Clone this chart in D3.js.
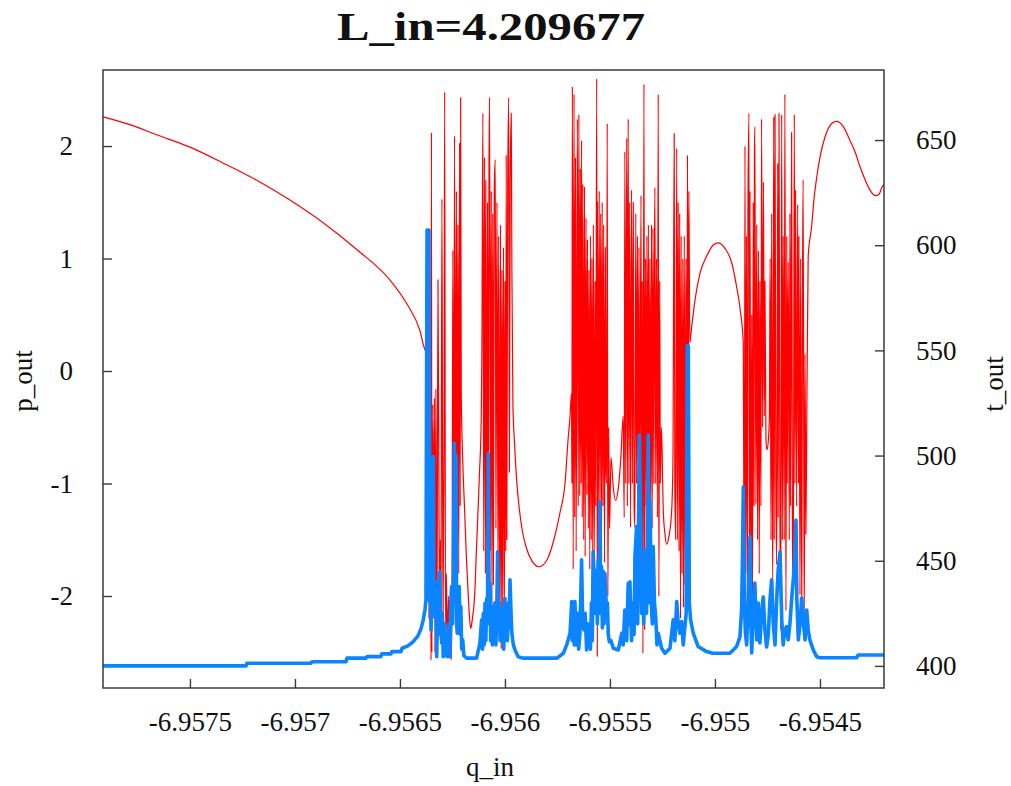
<!DOCTYPE html>
<html>
<head>
<meta charset="utf-8">
<script src="https://cdn.jsdelivr.net/npm/d3@7"></script>
<style>
  body { margin: 0; background: #fff; }
  svg { display: block; }
  text { font-family: "Liberation Serif", "Times New Roman", serif; fill: #111; }
</style>
</head>
<body>
<svg id="chart" width="1011" height="786"></svg>
<script>
// title and axis names
var titleText = "L_in=4.209677";
var xName = "q_in", yName = "p_out", y2Name = "t_out";

// ticks
var xTicks = [-6.9575, -6.957, -6.9565, -6.956, -6.9555, -6.955, -6.9545];
var yTicks = [-2, -1, 0, 1, 2];
var y2Ticks = [400, 450, 500, 550, 600, 650];

// ranges
var xDomain = [-6.957914, -6.954195];
var yDomain = [-2.818, 2.676];
var y2Domain = [389.5, 683.3];

// p_out against q_in (red, left axis)
var pOut = [
  [-6.957913, 2.26], [-6.957786, 2.19], [-6.957659, 2.10], [-6.957500, 1.99],
  [-6.957343, 1.85], [-6.957186, 1.70], [-6.957024, 1.52], [-6.956867, 1.32],
  [-6.956706, 1.08], [-6.956548, 0.81], [-6.956468, 0.60], [-6.956405, 0.36],
  [-6.956381, 0.19], [-6.956374, 0.17], [-6.956371, -1.0], [-6.956367, 0.1],
  [-6.956362, -2.2], [-6.956357, -0.5], [-6.956352, -2.57], [-6.956350, 2.12],
  [-6.956348, -2.5], [-6.956343, -0.3], [-6.956338, -2.2], [-6.956336, -0.24],
  [-6.956333, -2.5], [-6.956329, -0.16], [-6.956324, -2.55], [-6.956319, 0.81],
  [-6.956314, -1.24], [-6.956311, -2.10], [-6.956307, -1.5], [-6.956305, -2.4],
  [-6.956300, 1.53], [-6.956295, -2.3], [-6.956290, -0.6], [-6.956287, 2.48],
  [-6.956283, -2.37], [-6.956279, -1.8], [-6.956274, -2.5], [-6.956269, -2.0],
  [-6.956264, -2.55], [-6.956260, -2.2], [-6.956256, -2.57], [-6.956252, -2.1],
  [-6.956248, 1.07], [-6.956244, -2.0], [-6.956240, 2.09], [-6.956236, -1.6],
  [-6.956231, 1.6], [-6.956227, -2.2], [-6.956224, 1.3], [-6.956220, -1.8],
  [-6.956216, 2.03], [-6.956213, -1.2], [-6.956211, 2.43], [-6.956208, -0.22],
  [-6.956200, -0.85], [-6.956192, -1.24], [-6.956183, -1.68], [-6.956176, -1.95],
  [-6.956169, -2.18], [-6.956163, -2.29], [-6.956155, -2.2], [-6.956144, -1.99],
  [-6.956136, -1.6], [-6.956129, -1.28], [-6.956121, -0.9], [-6.956113, -0.43],
  [-6.956110, 0.1], [-6.956105, 2.29], [-6.956101, -1.6], [-6.956097, 1.9],
  [-6.956093, -1.8], [-6.956091, 1.7], [-6.956087, -2.0], [-6.956083, 1.5],
  [-6.956080, -1.7], [-6.956076, 1.8], [-6.956073, 2.43], [-6.956069, -1.6],
  [-6.956065, 1.6], [-6.956062, -2.1], [-6.956058, 1.4], [-6.956055, -1.9],
  [-6.956051, 1.6], [-6.956046, 1.88], [-6.956043, -1.4], [-6.956038, 1.5],
  [-6.956033, -1.8], [-6.956030, 1.2], [-6.956025, -2.3], [-6.956021, 1.3],
  [-6.956018, -2.47], [-6.956014, 0.9], [-6.956011, -2.2], [-6.956007, 1.1],
  [-6.956003, -2.4], [-6.956000, 0.8], [-6.955996, -1.6], [-6.955994, 1.92],
  [-6.955991, -1.5], [-6.955987, 1.6], [-6.955982, 2.43], [-6.955979, -0.9],
  [-6.955975, 1.7], [-6.955970, 2.29], [-6.955967, 0.9], [-6.955962, -0.3],
  [-6.955955, -0.62], [-6.955945, -0.95], [-6.955933, -1.2], [-6.955919, -1.40],
  [-6.955900, -1.56], [-6.955871, -1.69], [-6.955838, -1.74], [-6.955800, -1.68],
  [-6.955767, -1.50], [-6.955738, -1.26], [-6.955714, -1.00], [-6.955699, -0.6],
  [-6.955691, -0.43], [-6.955683, -0.2], [-6.955681, -1.0], [-6.955679, 2.53],
  [-6.955675, -1.76], [-6.955671, 2.46], [-6.955668, -1.3], [-6.955664, 1.9],
  [-6.955661, -1.6], [-6.955655, 2.24], [-6.955651, -1.2], [-6.955648, 2.28],
  [-6.955644, -1.11], [-6.955641, 1.8], [-6.955638, -1.0], [-6.955635, 2.05],
  [-6.955632, -1.3], [-6.955629, 1.66], [-6.955625, -1.5], [-6.955621, 1.64],
  [-6.955618, -1.65], [-6.955614, 1.36], [-6.955610, -1.1], [-6.955607, 1.17],
  [-6.955603, -1.4], [-6.955600, 0.9], [-6.955596, -1.76], [-6.955593, 1.2],
  [-6.955589, -1.5], [-6.955586, 1.0], [-6.955582, -1.7], [-6.955579, 1.3],
  [-6.955575, -1.76], [-6.955571, 0.8], [-6.955568, -1.2], [-6.955563, 2.60],
  [-6.955560, -2.54], [-6.955559, 1.51], [-6.955555, -1.3], [-6.955551, 1.6],
  [-6.955548, -1.3], [-6.955544, 1.4], [-6.955540, -1.65], [-6.955537, 1.5],
  [-6.955533, -1.2], [-6.955530, 1.3], [-6.955526, -1.7], [-6.955522, 1.1],
  [-6.955519, -0.9], [-6.955516, -1.0], [-6.955513, 2.20], [-6.955510, -2.0],
  [-6.955506, -0.5], [-6.955502, -1.4], [-6.955495, -0.77], [-6.955484, -1.04],
  [-6.955473, -1.15], [-6.955460, -1.04], [-6.955448, -0.77], [-6.955437, -0.40],
  [-6.955432, -1.3], [-6.955429, 1.95], [-6.955425, -1.0], [-6.955420, 2.07],
  [-6.955417, -1.2], [-6.955413, 2.24], [-6.955410, -1.0], [-6.955406, 1.5],
  [-6.955402, -1.39], [-6.955397, 1.61], [-6.955393, -1.0], [-6.955389, 1.5],
  [-6.955385, -1.2], [-6.955381, -1.39], [-6.955377, 1.4], [-6.955373, -1.0],
  [-6.955369, 1.2], [-6.955365, -1.5], [-6.955362, 1.1], [-6.955358, -1.2],
  [-6.955352, 1.56], [-6.955349, -2.0], [-6.955346, 0.8], [-6.955343, -2.51],
  [-6.955338, 2.55], [-6.955335, -2.3], [-6.955331, 1.0], [-6.955327, -1.2],
  [-6.955324, 1.2], [-6.955320, -1.0], [-6.955317, 1.3], [-6.955313, -1.6],
  [-6.955310, 1.0], [-6.955306, -1.3], [-6.955302, 1.3], [-6.955299, -1.4],
  [-6.955295, 1.27], [-6.955291, -1.0], [-6.955288, 1.0], [-6.955286, 1.63],
  [-6.955282, -1.0], [-6.955278, 1.0], [-6.955274, -1.3], [-6.955270, 2.46],
  [-6.955267, -2.0], [-6.955263, 0.8], [-6.955260, -1.0], [-6.955255, -0.5],
  [-6.955246, -1.24], [-6.955238, -1.45], [-6.955230, -1.54], [-6.955219, -1.47],
  [-6.955206, -1.24], [-6.955200, -0.8], [-6.955194, 2.11], [-6.955191, -1.0],
  [-6.955187, -1.5], [-6.955182, 1.98], [-6.955179, -1.5], [-6.955175, 1.5],
  [-6.955171, -1.6], [-6.955168, 1.4], [-6.955164, -2.20], [-6.955161, 1.2],
  [-6.955157, -1.8], [-6.955153, 1.0], [-6.955150, -2.1], [-6.955146, 1.2],
  [-6.955143, -1.9], [-6.955138, 1.0], [-6.955133, -1.0], [-6.955131, 1.92],
  [-6.955127, -0.3], [-6.955124, 1.6], [-6.955120, 0.25], [-6.955111, 0.39],
  [-6.955095, 0.63], [-6.955071, 0.87], [-6.955040, 1.02], [-6.955008, 1.12],
  [-6.954984, 1.14], [-6.954952, 1.09], [-6.954920, 0.96], [-6.954897, 0.75],
  [-6.954878, 0.52], [-6.954865, 0.25], [-6.954862, -1.5], [-6.954860, -2.2],
  [-6.954857, 2.0], [-6.954854, -1.8], [-6.954850, 1.2], [-6.954846, -2.2],
  [-6.954843, 1.4], [-6.954838, 2.29], [-6.954836, -2.0], [-6.954833, 1.6],
  [-6.954829, -2.2], [-6.954825, 0.5], [-6.954821, -2.1], [-6.954818, 1.5],
  [-6.954814, -1.2], [-6.954812, 1.92], [-6.954810, 2.17], [-6.954805, -1.18],
  [-6.954801, 1.3], [-6.954797, -1.5], [-6.954793, 1.07], [-6.954789, -1.8],
  [-6.954786, 0.8], [-6.954781, -1.2], [-6.954778, 2.24], [-6.954773, -0.5],
  [-6.954769, 1.68], [-6.954765, -0.4], [-6.954762, 0.8], [-6.954757, -0.62],
  [-6.954752, -0.70], [-6.954746, -0.62], [-6.954741, -0.43], [-6.954737, 1.0],
  [-6.954733, -1.5], [-6.954730, 1.40], [-6.954725, -2.0], [-6.954720, 2.26],
  [-6.954718, -1.5], [-6.954714, 2.28], [-6.954710, -1.0], [-6.954706, -1.72],
  [-6.954701, 1.85], [-6.954699, -1.3], [-6.954695, 2.29], [-6.954691, -1.0],
  [-6.954687, -2.3], [-6.954682, 2.28], [-6.954679, -1.5], [-6.954675, 1.2],
  [-6.954670, -1.5], [-6.954667, 2.46], [-6.954662, -2.13], [-6.954658, 1.2],
  [-6.954656, -1.0], [-6.954651, 0.97], [-6.954646, -1.5], [-6.954643, 1.4],
  [-6.954640, -1.2], [-6.954635, 2.12], [-6.954631, -1.5], [-6.954627, -1.96],
  [-6.954622, 2.28], [-6.954619, -1.0], [-6.954616, 1.61], [-6.954611, -1.2],
  [-6.954606, 1.48], [-6.954602, -1.0], [-6.954600, 1.2], [-6.954595, -1.99],
  [-6.954592, 1.0], [-6.954587, -2.13], [-6.954583, 0.8], [-6.954580, 1.70],
  [-6.954575, -2.30], [-6.954571, 0.15], [-6.954567, -1.45], [-6.954563, -0.5],
  [-6.954556, 1.02], [-6.954540, 1.28], [-6.954527, 1.55], [-6.954514, 1.74],
  [-6.954500, 1.90], [-6.954476, 2.08], [-6.954444, 2.20], [-6.954421, 2.22],
  [-6.954391, 2.18], [-6.954357, 2.05], [-6.954333, 1.95], [-6.954310, 1.82],
  [-6.954278, 1.67], [-6.954262, 1.61], [-6.954238, 1.56], [-6.954219, 1.57],
  [-6.954206, 1.63], [-6.954195, 1.66]
];

// t_out against q_in (blue, right axis)
var tOut = [
  [-6.957914, 400.0], [-6.957233, 400.0], [-6.957229, 401.3], [-6.956924, 401.3],
  [-6.956919, 402.0], [-6.956757, 402.0], [-6.956752, 403.7], [-6.956662, 403.7],
  [-6.956657, 404.4], [-6.956591, 404.4], [-6.956586, 405.7], [-6.956543, 405.7],
  [-6.956538, 406.8], [-6.956495, 406.8], [-6.956490, 408.4], [-6.956462, 409.5],
  [-6.956438, 411.4], [-6.956414, 414.3], [-6.956400, 417.6], [-6.956389, 421.9],
  [-6.956381, 426.6], [-6.956376, 431.4], [-6.956371, 607.2], [-6.956367, 431.4],
  [-6.956362, 607.2], [-6.956357, 444.2], [-6.956352, 417.1], [-6.956348, 470.0],
  [-6.956341, 499.5], [-6.956338, 430.0], [-6.956333, 423.4], [-6.956329, 440.0],
  [-6.956325, 404.4], [-6.956321, 425.0], [-6.956318, 431.4], [-6.956314, 415.0],
  [-6.956310, 444.8], [-6.956306, 420.0], [-6.956301, 410.8], [-6.956298, 425.0],
  [-6.956294, 404.4], [-6.956288, 420.0], [-6.956283, 405.0], [-6.956278, 415.0],
  [-6.956274, 404.4], [-6.956270, 408.4], [-6.956266, 420.0], [-6.956262, 404.4],
  [-6.956258, 430.0], [-6.956254, 437.7], [-6.956250, 420.0], [-6.956246, 437.7],
  [-6.956241, 505.8], [-6.956237, 430.0], [-6.956233, 500.0], [-6.956230, 420.0],
  [-6.956227, 415.5], [-6.956223, 430.0], [-6.956218, 437.7], [-6.956213, 415.0],
  [-6.956210, 428.2], [-6.956206, 408.0], [-6.956201, 412.4], [-6.956196, 405.0],
  [-6.956191, 404.4], [-6.956182, 403.7], [-6.956135, 403.7], [-6.956119, 410.8],
  [-6.956114, 418.0], [-6.956111, 421.9], [-6.956107, 408.0], [-6.956103, 425.0],
  [-6.956099, 410.0], [-6.956095, 429.8], [-6.956091, 412.0], [-6.956087, 432.0],
  [-6.956083, 420.0], [-6.956080, 501.1], [-6.956075, 430.0], [-6.956071, 439.3],
  [-6.956068, 412.0], [-6.956063, 425.0], [-6.956060, 410.0], [-6.956056, 428.2],
  [-6.956051, 415.0], [-6.956048, 430.0], [-6.956043, 410.0], [-6.956039, 425.0],
  [-6.956035, 454.3], [-6.956031, 420.0], [-6.956027, 430.0], [-6.956023, 412.0],
  [-6.956019, 428.2], [-6.956015, 412.0], [-6.956011, 425.0], [-6.956006, 408.0],
  [-6.956000, 432.2], [-6.955996, 415.0], [-6.955992, 425.0], [-6.955988, 412.0],
  [-6.955983, 430.0], [-6.955980, 418.0], [-6.955976, 440.9], [-6.955971, 425.0],
  [-6.955967, 415.5], [-6.955960, 410.0], [-6.955952, 407.6], [-6.955937, 404.4],
  [-6.955914, 403.7], [-6.955752, 403.7], [-6.955722, 406.0], [-6.955706, 410.0],
  [-6.955690, 415.5], [-6.955682, 430.6], [-6.955679, 412.0], [-6.955675, 430.0],
  [-6.955670, 410.0], [-6.955667, 430.6], [-6.955659, 410.0], [-6.955653, 425.0],
  [-6.955649, 408.0], [-6.955643, 415.5], [-6.955635, 450.4], [-6.955630, 420.0],
  [-6.955624, 417.1], [-6.955618, 425.0], [-6.955611, 407.6], [-6.955606, 420.0],
  [-6.955599, 415.0], [-6.955593, 408.0], [-6.955588, 430.0], [-6.955584, 412.0],
  [-6.955580, 454.3], [-6.955575, 440.0], [-6.955571, 425.0], [-6.955563, 445.6],
  [-6.955560, 420.0], [-6.955556, 450.0], [-6.955551, 425.0], [-6.955548, 478.1],
  [-6.955544, 430.0], [-6.955540, 447.2], [-6.955536, 418.0], [-6.955532, 445.0],
  [-6.955528, 420.0], [-6.955524, 444.0], [-6.955516, 425.0], [-6.955512, 430.0],
  [-6.955508, 415.0], [-6.955503, 411.5], [-6.955495, 412.0], [-6.955484, 408.4],
  [-6.955460, 407.6], [-6.955444, 415.5], [-6.955437, 410.0], [-6.955429, 426.6],
  [-6.955420, 412.0], [-6.955417, 425.0], [-6.955413, 439.3], [-6.955409, 420.0],
  [-6.955405, 440.0], [-6.955397, 412.0], [-6.955389, 430.0], [-6.955385, 415.0],
  [-6.955381, 451.9], [-6.955373, 466.2], [-6.955368, 420.0], [-6.955360, 509.8],
  [-6.955354, 472.6], [-6.955349, 425.0], [-6.955344, 437.7], [-6.955339, 420.0],
  [-6.955333, 455.1], [-6.955326, 425.0], [-6.955322, 440.0], [-6.955318, 509.8],
  [-6.955313, 430.0], [-6.955310, 478.9], [-6.955301, 425.0], [-6.955298, 420.0],
  [-6.955294, 456.7], [-6.955288, 430.0], [-6.955282, 423.4], [-6.955276, 410.0],
  [-6.955270, 415.5], [-6.955254, 408.4], [-6.955238, 406.0], [-6.955214, 408.4],
  [-6.955199, 421.9], [-6.955191, 412.0], [-6.955182, 430.6], [-6.955175, 420.0],
  [-6.955167, 415.5], [-6.955159, 421.1], [-6.955151, 410.0], [-6.955143, 418.7],
  [-6.955137, 425.0], [-6.955132, 552.2], [-6.955127, 552.2], [-6.955122, 430.0],
  [-6.955116, 421.9], [-6.955103, 415.5], [-6.955080, 409.2], [-6.955040, 406.8],
  [-6.955010, 406.0], [-6.954976, 406.0], [-6.954929, 406.0], [-6.954913, 407.6],
  [-6.954897, 409.2], [-6.954881, 413.8], [-6.954873, 426.6], [-6.954869, 450.4],
  [-6.954865, 485.2], [-6.954860, 431.4], [-6.954855, 415.7], [-6.954849, 410.0],
  [-6.954841, 431.4], [-6.954833, 461.5], [-6.954829, 421.9], [-6.954825, 406.2],
  [-6.954819, 421.9], [-6.954810, 439.4], [-6.954801, 412.4], [-6.954794, 429.9],
  [-6.954786, 410.9], [-6.954778, 425.2], [-6.954770, 432.8], [-6.954762, 417.1],
  [-6.954754, 409.0], [-6.954746, 414.7], [-6.954738, 431.4], [-6.954730, 440.9],
  [-6.954722, 419.5], [-6.954714, 410.0], [-6.954706, 431.4], [-6.954699, 445.6],
  [-6.954690, 454.3], [-6.954682, 421.9], [-6.954675, 410.0], [-6.954667, 417.1],
  [-6.954659, 418.7], [-6.954651, 412.4], [-6.954643, 420.0], [-6.954635, 431.4],
  [-6.954627, 440.9], [-6.954621, 450.4], [-6.954614, 469.4], [-6.954610, 431.4],
  [-6.954603, 412.4], [-6.954595, 419.5], [-6.954587, 432.3], [-6.954580, 421.9],
  [-6.954571, 412.4], [-6.954563, 426.6], [-6.954556, 417.1], [-6.954548, 412.4],
  [-6.954532, 407.6], [-6.954516, 404.4], [-6.954500, 403.9], [-6.954325, 403.9],
  [-6.954318, 405.2], [-6.954195, 405.2]
];

var svg = d3.select("#chart");
var margin = {left: 103, right: 127, top: 70, bottom: 98};
var W = 1011, H = 786;
var plotW = W - margin.left - margin.right,
    plotH = H - margin.top - margin.bottom;

var x = d3.scaleLinear().domain(xDomain).range([0, plotW]);
var y = d3.scaleLinear().domain(yDomain).range([plotH, 0]);
var y2 = d3.scaleLinear().domain(y2Domain).range([plotH, 0]);

var g = svg.append("g").attr("transform", `translate(${margin.left},${margin.top})`);

g.append("clipPath").attr("id", "clip")
  .append("rect").attr("width", plotW).attr("height", plotH);

var plot = g.append("g").attr("clip-path", "url(#clip)");

var redLine = d3.line().curve(d3.curveMonotoneX).x(d => x(d[0])).y(d => y(d[1]));
var blueLine = d3.line().x(d => x(d[0])).y(d => y2(d[1]));

plot.append("path")
  .attr("d", redLine(pOut))
  .attr("fill", "none")
  .attr("stroke", "#ff0000")
  .attr("stroke-width", 1.2);

plot.append("path")
  .attr("d", blueLine(tOut))
  .attr("fill", "none")
  .attr("stroke", "#0a84ff")
  .attr("stroke-width", 3.6)
  .attr("stroke-linejoin", "round");

// axes (ticks point inward, gnuplot style)
var tickLen = 9;
var axisColor = "#3a3a3a";

var xAxis = g.append("g").attr("transform", `translate(0,${plotH})`)
  .call(d3.axisBottom(x).tickValues(xTicks).tickSize(-tickLen).tickPadding(24)
    .tickFormat(d => String(d)));
var yAxis = g.append("g")
  .call(d3.axisLeft(y).tickValues(yTicks).tickSize(-tickLen).tickPadding(30)
    .tickFormat(d => String(d)));
var y2Axis = g.append("g").attr("transform", `translate(${plotW},0)`)
  .call(d3.axisRight(y2).tickValues(y2Ticks).tickSize(-tickLen).tickPadding(32)
    .tickFormat(d => String(d)));

[xAxis, yAxis, y2Axis].forEach(a => {
  a.select(".domain").remove();
  a.selectAll(".tick line").attr("stroke", axisColor).attr("stroke-width", 1.4);
  a.selectAll(".tick text")
    .attr("font-family", "Liberation Serif, serif")
    .attr("font-size", 27)
    .attr("fill", "#111");
});

// frame
g.append("rect")
  .attr("width", plotW).attr("height", plotH)
  .attr("fill", "none")
  .attr("stroke", axisColor)
  .attr("stroke-width", 1.5);

// title and labels
svg.append("text")
  .attr("x", 491).attr("y", 40)
  .attr("text-anchor", "middle")
  .attr("font-size", 41)
  .attr("font-weight", "bold")
  .attr("textLength", 308)
  .attr("lengthAdjust", "spacingAndGlyphs")
  .text(titleText);

svg.append("text")
  .attr("x", 490).attr("y", 776)
  .attr("text-anchor", "middle")
  .attr("font-size", 27)
  .text(xName);

svg.append("text")
  .attr("transform", "translate(32,381) rotate(-90)")
  .attr("text-anchor", "middle")
  .attr("font-size", 27)
  .text(yName);

svg.append("text")
  .attr("transform", "translate(1003,384) rotate(-90)")
  .attr("text-anchor", "middle")
  .attr("font-size", 27)
  .text(y2Name);
</script>
</body>
</html>
